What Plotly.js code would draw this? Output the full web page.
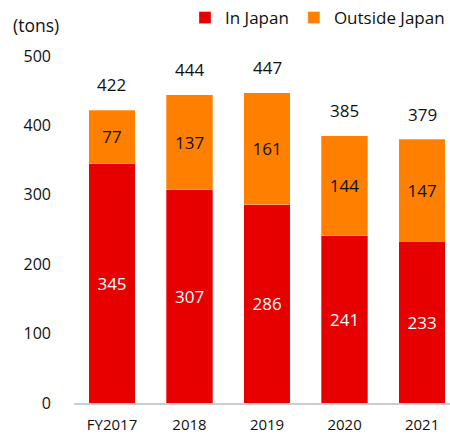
<!DOCTYPE html>
<html><head><meta charset="utf-8">
<script src="https://cdn.plot.ly/plotly-3.0.1.min.js"></script>
<style>body{margin:0;background:#fff}#chart{width:450px;height:435px}</style>
</head><body><div id="chart"></div>
<script>
const categories = ["FY2017", "2018", "2019", "2020", "2021"];
const inJapan = [345, 307, 286, 241, 233];
const outsideJapan = [77, 137, 161, 144, 147];
const totals = [422, 444, 447, 385, 379];
const yTicks = [0, 100, 200, 300, 400, 500];

const FONT = "Open Sans, sans-serif";
const traces = [
  {type: "bar", name: "In Japan", x: categories, y: inJapan,
   marker: {color: "#E60000", line: {color: "rgba(255,255,255,0.6)", width: 0.5}},
   text: inJapan.map(String), textposition: "inside", insidetextanchor: "middle",
   textfont: {color: "#ffffff", size: 17, family: FONT}, hoverinfo: "none"},
  {type: "bar", name: "Outside Japan", x: categories, y: outsideJapan,
   marker: {color: "#FF8000", line: {color: "rgba(255,255,255,0.6)", width: 0.5}},
   text: outsideJapan.map(String), textposition: "inside", insidetextanchor: "middle",
   textfont: {color: "#111111", size: 17, family: FONT}, hoverinfo: "none"}
];

const annotations = categories.map((c, i) => ({
  x: i, y: totals[i], xref: "x", yref: "y", text: String(totals[i]),
  showarrow: false, yanchor: "bottom", yshift: 12,
  font: {size: 17, color: "#111111", family: FONT}
}));
annotations.push({
  x: -0.101, y: 1.09, xref: "paper", yref: "paper", xanchor: "center", yanchor: "middle",
  text: "(tons)", showarrow: false, font: {size: 17.5, color: "#111111", family: FONT}
});

const layout = {
  width: 450, height: 435,
  margin: {l: 74, r: 0, t: 52, b: 32},
  barmode: "stack", bargap: 0.4,
  paper_bgcolor: "#ffffff", plot_bgcolor: "#ffffff",
  font: {family: FONT, color: "#111111", size: 16},
  showlegend: true,
  legend: {orientation: "h", x: 1, xanchor: "right", y: 1.11, yanchor: "middle",
           font: {size: 17, family: FONT, color: "#111111"}, itemwidth: 30,
           traceorder: "normal", bgcolor: "rgba(0,0,0,0)"},
  xaxis: {type: "category", range: [-0.49, 4.36], showline: true, linecolor: "#cccccc",
          linewidth: 2, ticks: "", tickfont: {size: 15}, showgrid: false, zeroline: false,
          ticklabelstandoff: 7},
  yaxis: {range: [0, 500], tickvals: yTicks, showgrid: false, zeroline: false, showline: false,
          ticks: "", tickfont: {size: 16}, ticklabelstandoff: 22},
  annotations: annotations
};

Plotly.newPlot("chart", traces, layout, {displayModeBar: false, staticPlot: true});
</script></body></html>
